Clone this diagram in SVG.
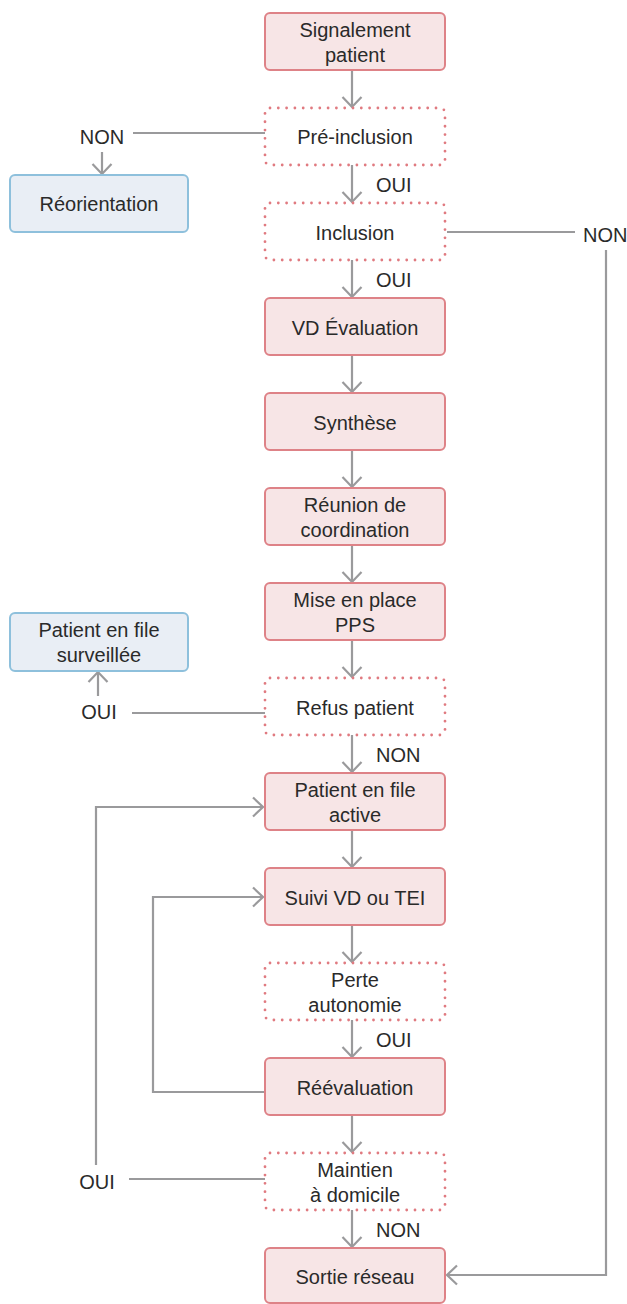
<svg xmlns="http://www.w3.org/2000/svg" width="627" height="1304" viewBox="0 0 627 1304">
<style>
.s{fill:#f7e5e6;stroke:#de8287;stroke-width:2}
.d{fill:#fff;stroke:#e07a80;stroke-width:2.8;stroke-dasharray:0 8.3;stroke-linecap:round}
.b{fill:#e9eef5;stroke:#8ec0dc;stroke-width:2}
text{font-family:"Liberation Sans",Arial,sans-serif;font-size:20px;fill:#2a2a2a;text-anchor:middle}
.l{text-anchor:start}
.c{fill:none;stroke:#9a9a9c;stroke-width:2.2}
</style>
<defs>
<marker id="a" markerUnits="userSpaceOnUse" markerWidth="26" markerHeight="26" viewBox="-13 -13 26 26" refX="0" refY="0" orient="auto">
<path d="M-10,-9.5 L0,0 L-10,9.5" fill="none" stroke="#9a9a9c" stroke-width="2.2"/>
</marker>
</defs>
<g id="connectors">
<path class="c" d="M352,70 V107" marker-end="url(#a)"/>
<path class="c" d="M352,165 V202" marker-end="url(#a)"/>
<path class="c" d="M352,260 V297" marker-end="url(#a)"/>
<path class="c" d="M352,355 V392" marker-end="url(#a)"/>
<path class="c" d="M352,450 V487" marker-end="url(#a)"/>
<path class="c" d="M352,545 V582" marker-end="url(#a)"/>
<path class="c" d="M352,640 V677" marker-end="url(#a)"/>
<path class="c" d="M352,735 V772" marker-end="url(#a)"/>
<path class="c" d="M352,830 V867" marker-end="url(#a)"/>
<path class="c" d="M352,925 V962" marker-end="url(#a)"/>
<path class="c" d="M352,1020 V1057" marker-end="url(#a)"/>
<path class="c" d="M352,1115 V1152" marker-end="url(#a)"/>
<path class="c" d="M352,1210 V1247" marker-end="url(#a)"/>
<path class="c" d="M265,133 H133"/>
<path class="c" d="M102,152 V174" marker-end="url(#a)"/>
<path class="c" d="M447,232 H575"/>
<path class="c" d="M606,250 V1275 H447" marker-end="url(#a)"/>
<path class="c" d="M265,713 H132"/>
<path class="c" d="M98,696 V672" marker-end="url(#a)"/>
<path class="c" d="M265,1179 H129"/>
<path class="c" d="M96,1165 V807 H263" marker-end="url(#a)"/>
<path class="c" d="M265,1092 H153 V897 H263" marker-end="url(#a)"/>
<text class="l" x="376" y="192">OUI</text>
<text class="l" x="376" y="287">OUI</text>
<text class="l" x="376" y="762">NON</text>
<text class="l" x="376" y="1047">OUI</text>
<text class="l" x="376" y="1237">NON</text>
<text x="102" y="144">NON</text>
<text class="l" x="583" y="242">NON</text>
<text x="99" y="719">OUI</text>
<text x="97" y="1189">OUI</text>
</g>
<g id="n0"><rect class="s" x="265" y="13" width="180" height="57" rx="5"/><text x="355" y="37">Signalement</text><text x="355" y="62">patient</text></g>
<g id="n1"><rect class="d" x="265" y="108" width="180" height="57" rx="5"/><text x="355" y="144">Pré-inclusion</text></g>
<g id="n2"><rect class="d" x="265" y="203" width="180" height="57" rx="5"/><text x="355" y="240">Inclusion</text></g>
<g id="n3"><rect class="s" x="265" y="298" width="180" height="57" rx="5"/><text x="355" y="335">VD Évaluation</text></g>
<g id="n4"><rect class="s" x="265" y="393" width="180" height="57" rx="5"/><text x="355" y="430">Synthèse</text></g>
<g id="n5"><rect class="s" x="265" y="488" width="180" height="57" rx="5"/><text x="355" y="512">Réunion de</text><text x="355" y="537">coordination</text></g>
<g id="n6"><rect class="s" x="265" y="583" width="180" height="57" rx="5"/><text x="355" y="607">Mise en place</text><text x="355" y="632">PPS</text></g>
<g id="n7"><rect class="d" x="265" y="678" width="180" height="57" rx="5"/><text x="355" y="715">Refus patient</text></g>
<g id="n8"><rect class="s" x="265" y="773" width="180" height="57" rx="5"/><text x="355" y="797">Patient en file</text><text x="355" y="822">active</text></g>
<g id="n9"><rect class="s" x="265" y="868" width="180" height="57" rx="5"/><text x="355" y="905">Suivi VD ou TEI</text></g>
<g id="n10"><rect class="d" x="265" y="963" width="180" height="57" rx="5"/><text x="355" y="987">Perte</text><text x="355" y="1012">autonomie</text></g>
<g id="n11"><rect class="s" x="265" y="1058" width="180" height="57" rx="5"/><text x="355" y="1095">Réévaluation</text></g>
<g id="n12"><rect class="d" x="265" y="1153" width="180" height="57" rx="5"/><text x="355" y="1177">Maintien</text><text x="355" y="1202">à domicile</text></g>
<g id="n13"><rect class="s" x="265" y="1248" width="180" height="55" rx="5"/><text x="355" y="1284">Sortie réseau</text></g>
<g id="n14"><rect class="b" x="10" y="175" width="178" height="57" rx="5"/><text x="99" y="211">Réorientation</text></g>
<g id="n15"><rect class="b" x="10" y="613" width="178" height="58" rx="5"/><text x="99" y="637">Patient en file</text><text x="99" y="662">surveillée</text></g>
</svg>
